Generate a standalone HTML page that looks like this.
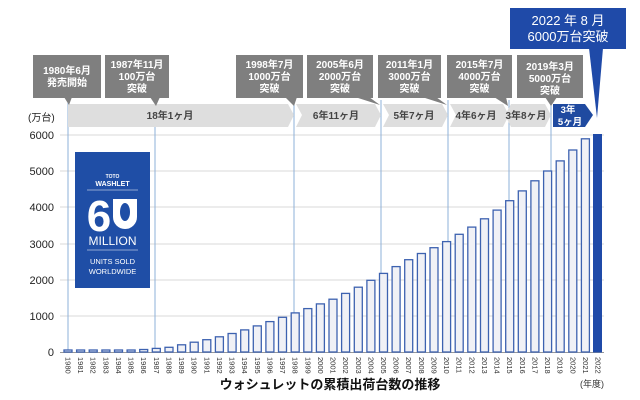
<!DOCTYPE html>
<html><head><meta charset="utf-8"><style>
body{margin:0;background:#fff;}
svg{display:block;font-family:"Liberation Sans","Noto Sans CJK JP",sans-serif;}
</style></head><body>
<svg width="640" height="400" viewBox="0 0 640 400" xmlns="http://www.w3.org/2000/svg">
<rect width="640" height="400" fill="#fff"/>
<g stroke="#d9d9d9" stroke-width="1">
<line x1="60" y1="135" x2="604" y2="135"/><line x1="60" y1="171" x2="604" y2="171"/>
<line x1="60" y1="207" x2="604" y2="207"/><line x1="60" y1="244" x2="604" y2="244"/>
<line x1="60" y1="280" x2="604" y2="280"/><line x1="60" y1="316" x2="604" y2="316"/>
</g>
<line x1="60" y1="352.5" x2="604" y2="352.5" stroke="#999" stroke-width="1"/>
<g font-size="11" fill="#222" text-anchor="end">
<text x="54" y="139">6000</text><text x="54" y="175">5000</text><text x="54" y="211">4000</text>
<text x="54" y="248">3000</text><text x="54" y="284">2000</text><text x="54" y="320">1000</text><text x="54" y="356">0</text>
</g>
<text x="28" y="121" font-size="10" fill="#222">(万台)</text>
<g stroke="#8eb1d8" stroke-width="1">
<line x1="68" y1="100" x2="68" y2="352"/><line x1="155" y1="100" x2="155" y2="352"/>
<line x1="294" y1="100" x2="294" y2="352"/><line x1="381" y1="100" x2="381" y2="352"/>
<line x1="448" y1="100" x2="448" y2="352"/><line x1="509" y1="100" x2="509" y2="352"/>
<line x1="551" y1="100" x2="551" y2="352"/>
</g>
<g fill="#f0f1f6" stroke="#3d62b0" stroke-width="1.3">
<rect x="64" y="350" width="8" height="2"/><rect x="76.6" y="350" width="8" height="2"/>
<rect x="89.2" y="350" width="8" height="2"/><rect x="101.9" y="350" width="8" height="2"/>
<rect x="114.5" y="350" width="8" height="2"/><rect x="127.1" y="350" width="8" height="2"/>
<rect x="139.7" y="349.5" width="8" height="2.5"/><rect x="152.3" y="348.4" width="8" height="3.6"/>
<rect x="165" y="347.3" width="8" height="4.7"/><rect x="177.6" y="344.8" width="8" height="7.2"/>
<rect x="190.2" y="342.2" width="8" height="9.8"/><rect x="202.8" y="339.7" width="8" height="12.3"/>
<rect x="215.4" y="336.8" width="8" height="15.2"/><rect x="228.1" y="333.5" width="8" height="18.5"/>
<rect x="240.7" y="329.9" width="8" height="22.1"/><rect x="253.3" y="325.9" width="8" height="26.1"/>
<rect x="265.9" y="321.6" width="8" height="30.4"/><rect x="278.5" y="317.3" width="8" height="34.7"/>
<rect x="291.2" y="312.9" width="8" height="39.1"/><rect x="303.8" y="308.6" width="8" height="43.4"/>
<rect x="316.4" y="303.9" width="8" height="48.1"/><rect x="329" y="299.2" width="8" height="52.8"/>
<rect x="341.6" y="293.4" width="8" height="58.6"/><rect x="354.3" y="287.2" width="8" height="64.8"/>
<rect x="366.9" y="280.3" width="8" height="71.7"/><rect x="379.5" y="273.4" width="8" height="78.6"/>
<rect x="392.1" y="266.6" width="8" height="85.4"/><rect x="404.7" y="259.7" width="8" height="92.3"/>
<rect x="417.4" y="253.5" width="8" height="98.5"/><rect x="430" y="247.7" width="8" height="104.3"/>
<rect x="442.6" y="241.6" width="8" height="110.4"/><rect x="455.2" y="234.3" width="8" height="117.7"/>
<rect x="467.8" y="227.1" width="8" height="124.9"/><rect x="480.5" y="218.8" width="8" height="133.2"/>
<rect x="493.1" y="210.1" width="8" height="141.9"/><rect x="505.7" y="200.7" width="8" height="151.3"/>
<rect x="518.3" y="190.9" width="8" height="161.1"/><rect x="530.9" y="180.8" width="8" height="171.2"/>
<rect x="543.6" y="171" width="8" height="181"/><rect x="556.2" y="160.9" width="8" height="191.1"/>
<rect x="568.8" y="150" width="8" height="202"/><rect x="581.4" y="138.8" width="8" height="213.2"/>
</g>
<rect x="593.5" y="134.5" width="8" height="217.5" fill="#1f4aa8" stroke="#1f4aa8"/>
<g font-size="7.5" fill="#333">
<text transform="translate(65.5,357) rotate(90)">1980</text><text transform="translate(78.1,357) rotate(90)">1981</text>
<text transform="translate(90.7,357) rotate(90)">1982</text><text transform="translate(103.4,357) rotate(90)">1983</text>
<text transform="translate(116,357) rotate(90)">1984</text><text transform="translate(128.6,357) rotate(90)">1985</text>
<text transform="translate(141.2,357) rotate(90)">1986</text><text transform="translate(153.8,357) rotate(90)">1987</text>
<text transform="translate(166.5,357) rotate(90)">1988</text><text transform="translate(179.1,357) rotate(90)">1989</text>
<text transform="translate(191.7,357) rotate(90)">1990</text><text transform="translate(204.3,357) rotate(90)">1991</text>
<text transform="translate(216.9,357) rotate(90)">1992</text><text transform="translate(229.6,357) rotate(90)">1993</text>
<text transform="translate(242.2,357) rotate(90)">1994</text><text transform="translate(254.8,357) rotate(90)">1995</text>
<text transform="translate(267.4,357) rotate(90)">1996</text><text transform="translate(280,357) rotate(90)">1997</text>
<text transform="translate(292.7,357) rotate(90)">1998</text><text transform="translate(305.3,357) rotate(90)">1999</text>
<text transform="translate(317.9,357) rotate(90)">2000</text><text transform="translate(330.5,357) rotate(90)">2001</text>
<text transform="translate(343.1,357) rotate(90)">2002</text><text transform="translate(355.8,357) rotate(90)">2003</text>
<text transform="translate(368.4,357) rotate(90)">2004</text><text transform="translate(381,357) rotate(90)">2005</text>
<text transform="translate(393.6,357) rotate(90)">2006</text><text transform="translate(406.2,357) rotate(90)">2007</text>
<text transform="translate(418.9,357) rotate(90)">2008</text><text transform="translate(431.5,357) rotate(90)">2009</text>
<text transform="translate(444.1,357) rotate(90)">2010</text><text transform="translate(456.7,357) rotate(90)">2011</text>
<text transform="translate(469.3,357) rotate(90)">2012</text><text transform="translate(482,357) rotate(90)">2013</text>
<text transform="translate(494.6,357) rotate(90)">2014</text><text transform="translate(507.2,357) rotate(90)">2015</text>
<text transform="translate(519.8,357) rotate(90)">2016</text><text transform="translate(532.4,357) rotate(90)">2017</text>
<text transform="translate(545.1,357) rotate(90)">2018</text><text transform="translate(557.7,357) rotate(90)">2019</text>
<text transform="translate(570.3,357) rotate(90)">2020</text><text transform="translate(582.9,357) rotate(90)">2021</text>
<text transform="translate(595.5,357) rotate(90)">2022</text>
</g>
<text x="580" y="387" font-size="9" fill="#333">(年度)</text>
<text x="330" y="389" font-size="13" font-weight="bold" fill="#111" text-anchor="middle">ウォシュレットの累積出荷台数の推移</text>
<rect x="75" y="152" width="75" height="136" fill="#1f4ea6"/>
<g fill="#fff" text-anchor="middle">
<text x="112.5" y="178" font-size="5" font-weight="bold">TOTO</text>
<text x="112.5" y="186" font-size="7" font-weight="bold">WASHLET</text>
<line x1="87" y1="190" x2="138" y2="190" stroke="#fff" stroke-width="0.6"/>
<text x="99" y="231" font-size="44" font-weight="bold">6</text>
<path d="M113 199 h24 v18 a12 12 0 0 1 -24 0 z" fill="#fff"/>
<ellipse cx="125" cy="212" rx="5" ry="9" fill="#1f4ea6"/>
<text x="112.5" y="245" font-size="12">MILLION</text>
<line x1="87" y1="250" x2="138" y2="250" stroke="#fff" stroke-width="0.6"/>
<text x="112.5" y="264" font-size="7.5">UNITS SOLD</text>
<text x="112.5" y="274" font-size="7.5">WORLDWIDE</text>
</g>
<g fill="#dedede">
<polygon points="68,104 288,104 294,115 288,127 68,127"/>
<polygon points="296,104 375,104 381,115 375,127 296,127 302,115"/>
<polygon points="383,104 442,104 448,115 442,127 383,127 389,115"/>
<polygon points="450,104 503,104 509,115 503,127 450,127 456,115"/>
<polygon points="511,104 545,104 551,115 545,127 511,127 505,115"/>
</g>
<polygon points="553,104 585,104 593,115 585,127 553,127" fill="#1f4aa0"/>
<g font-size="10" font-weight="bold" fill="#444" text-anchor="middle">
<text x="170" y="119">18年1ヶ月</text><text x="336" y="119">6年11ヶ月</text>
<text x="414" y="119">5年7ヶ月</text><text x="476" y="119">4年6ヶ月</text><text x="526" y="119">3年8ヶ月</text>
</g>
<g font-size="9.5" font-weight="bold" fill="#fff" text-anchor="middle">
<text x="568" y="113">3年</text><text x="570" y="125">5ヶ月</text>
</g>
<g fill="#7f7f7f">
<rect x="33" y="55" width="68" height="43"/><polygon points="64,97 72,97 69,105"/>
<rect x="105" y="55" width="64" height="43"/><polygon points="150,97 160,97 156,106"/>
<rect x="236" y="55" width="67" height="43"/><polygon points="285,97 297,97 294,106"/>
<rect x="307" y="55" width="66" height="43"/><polygon points="355,97 369,97 380,105"/>
<rect x="378" y="55" width="63" height="43"/><polygon points="422,97 436,97 447,105"/>
<rect x="447" y="55" width="65" height="43"/><polygon points="494,97 506,97 508,106"/>
<rect x="517" y="55" width="66" height="43"/><polygon points="545,97 557,97 551,106"/>
</g>
<g font-size="10" font-weight="bold" fill="#fff" text-anchor="middle">
<text x="67" y="74">1980年6月</text><text x="67" y="86">発売開始</text>
<text x="137" y="68">1987年11月</text><text x="137" y="80">100万台</text><text x="137" y="92">突破</text>
<text x="269.5" y="68">1998年7月</text><text x="269.5" y="80">1000万台</text><text x="269.5" y="92">突破</text>
<text x="340" y="68">2005年6月</text><text x="340" y="80">2000万台</text><text x="340" y="92">突破</text>
<text x="409.5" y="68">2011年1月</text><text x="409.5" y="80">3000万台</text><text x="409.5" y="92">突破</text>
<text x="479.5" y="68">2015年7月</text><text x="479.5" y="80">4000万台</text><text x="479.5" y="92">突破</text>
<text x="550" y="70">2019年3月</text><text x="550" y="82">5000万台</text><text x="550" y="94">突破</text>
</g>
<rect x="510" y="8" width="116" height="41" fill="#1f4aa8"/>
<polygon points="589,48 603,48 597,118" fill="#1f4aa8"/>
<g font-size="13" fill="#fff" text-anchor="middle">
<text x="568" y="25">2022 年 8 月</text><text x="568" y="41">6000万台突破</text>
</g>
</svg>
</body></html>
